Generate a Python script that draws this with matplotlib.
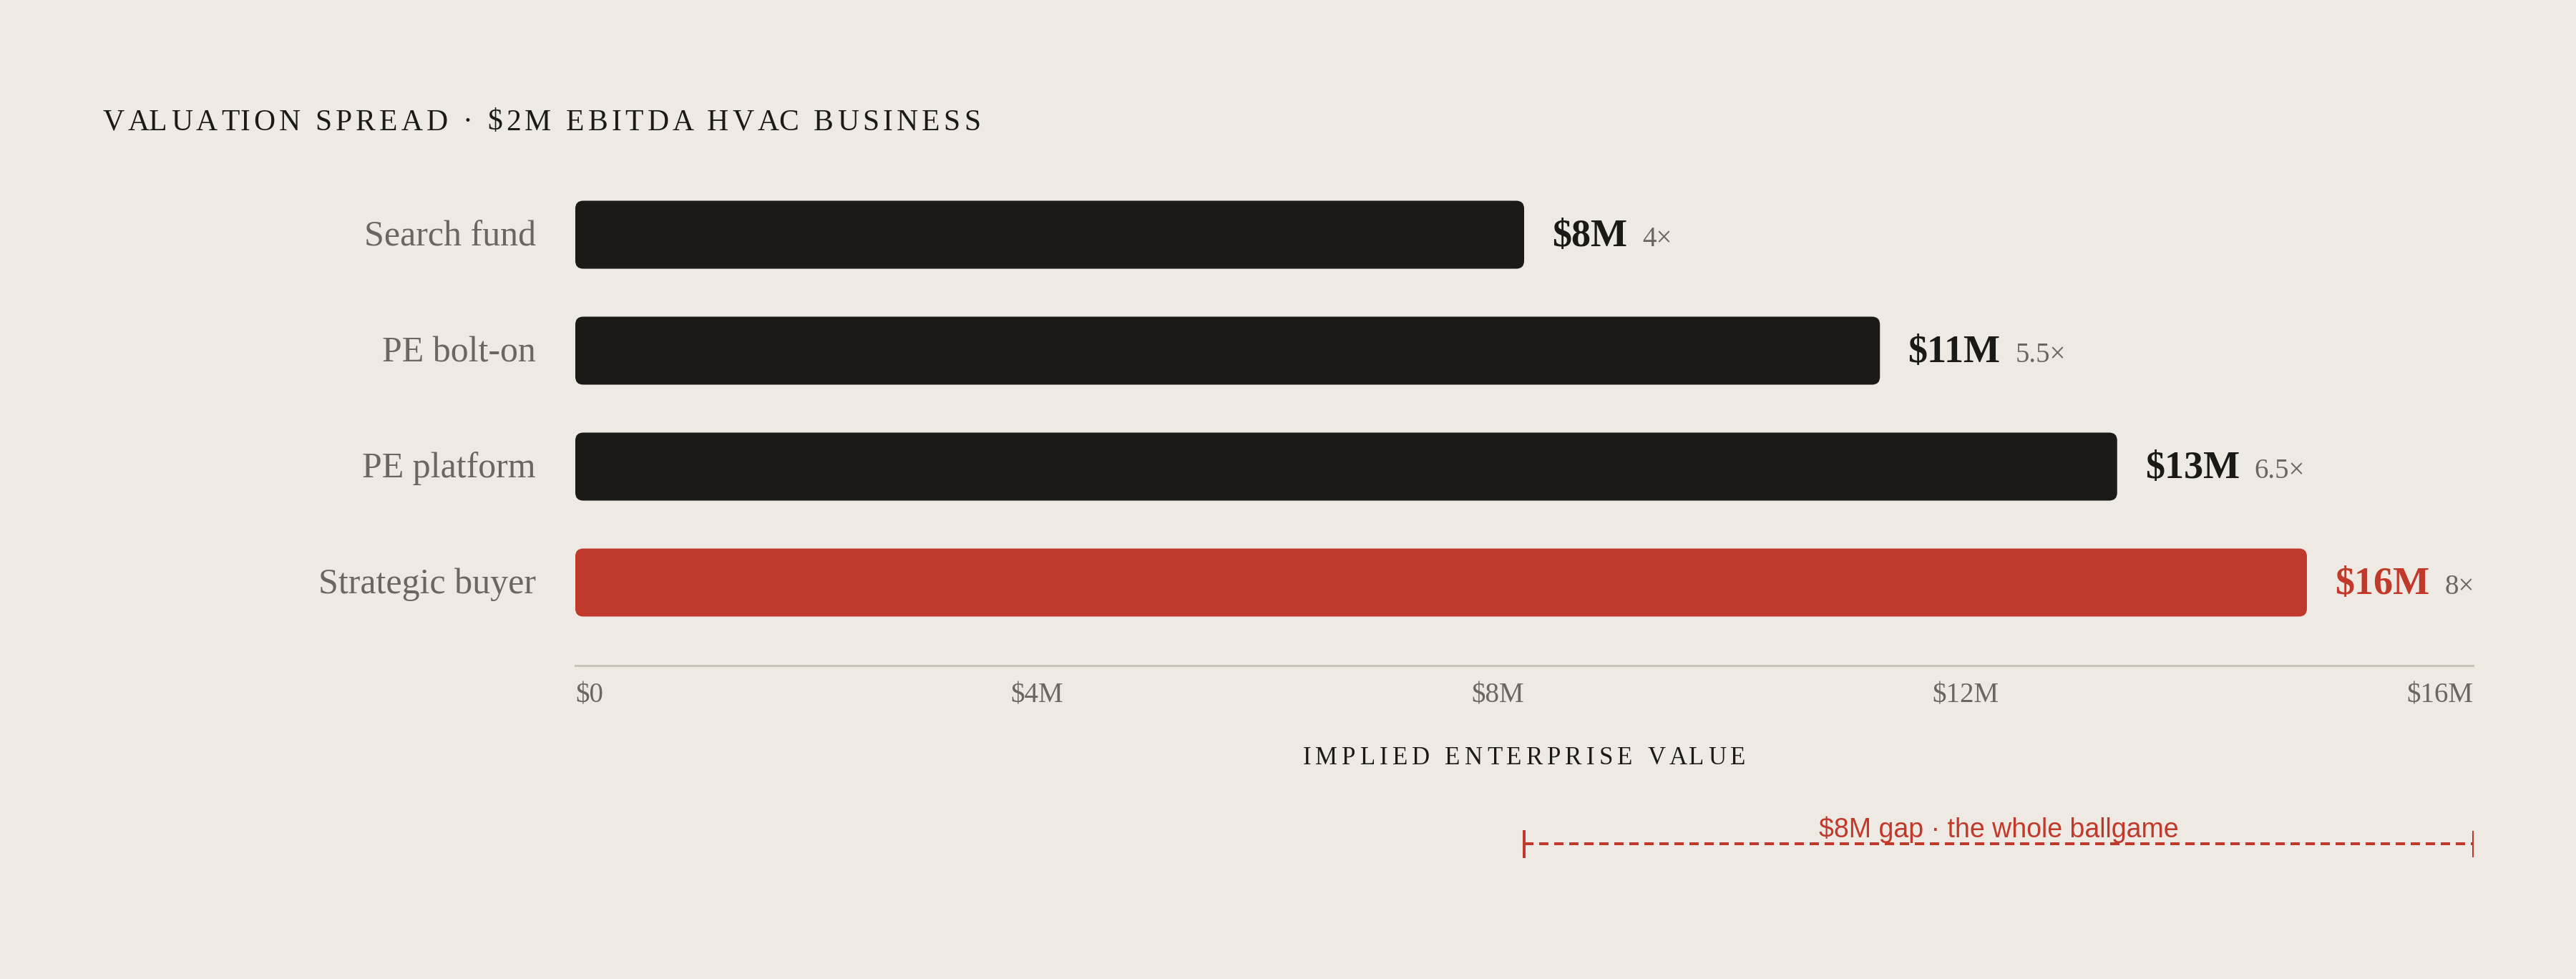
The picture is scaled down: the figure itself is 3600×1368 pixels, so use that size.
import matplotlib
matplotlib.use("Agg")
import matplotlib.pyplot as plt
from matplotlib.patches import FancyBboxPatch
from matplotlib import transforms as mtrans

# data
buyers = ["Search fund", "PE bolt-on", "PE platform", "Strategic buyer"]
ev_values = [8, 11, 13, 16]
ev_labels = ["$8M", "$11M", "$13M", "$16M"]
multiples = ["4×", "5.5×", "6.5×", "8×"]
# drawn bar lengths (the last bar is capped so its labels fit)
bar_lengths = [8, 11, 13, 14.6]
highlight = [False, False, False, True]
tick_labels = ["$0", "$4M", "$8M", "$12M", "$16M"]
gap_from, gap_to = 8, 16
gap_label = "$8M gap · the whole ballgame"
title = "VALUATION SPREAD · $2M EBITDA HVAC BUSINESS"
xlabel = "IMPLIED ENTERPRISE VALUE"

# style
BG = "#eeeae3"
INK = "#1c1a16"
RED = "#c0392b"
GREY = "#6b6760"
RULE = "#c9c3ba"
SERIF = ["Liberation Serif", "DejaVu Serif"]
SANS = ["Liberation Sans", "DejaVu Sans"]

W, H, DPI = 3600, 1368, 200
PT = 72 / DPI  # points per pixel

fig = plt.figure(figsize=(W / DPI, H / DPI), dpi=DPI, facecolor=BG)
ident = mtrans.IdentityTransform()


def py(y):
    # pixel row from top -> display y
    return H - y


# plot area: x from 804 to 3456 px, bars centred 162 px apart starting at 328 px
x_left, x_right = 804, 3456
row0, row_step, axis_y = 328, 162, 930
top_y = row0 - row_step / 2
ax = fig.add_axes([x_left / W, 1 - axis_y / H, (x_right - x_left) / W, (axis_y - top_y) / H])
ax.set_facecolor("none")
ax.set_xlim(0, 16)
ax.set_ylim((axis_y - row0) / row_step, -0.5)
ax.set_xticks([])
ax.set_yticks([])
for s in ["top", "left", "right"]:
    ax.spines[s].set_visible(False)
ax.spines["bottom"].set_color(RULE)
ax.spines["bottom"].set_linewidth(3 * PT)

bar_h = 95 / row_step
aspect = (1 / row_step) / (16 / (x_right - x_left))
radius = 11 * 16 / (x_right - x_left)

for i, (name, L) in enumerate(zip(buyers, bar_lengths)):
    col = RED if highlight[i] else INK
    ax.add_patch(FancyBboxPatch((0, i - bar_h / 2), L, bar_h,
                                boxstyle=f"round,pad=0,rounding_size={radius}",
                                mutation_aspect=aspect, fc=col, ec="none"))
    ax.annotate(name, xy=(0, i), xytext=(-55 * PT, -15 * PT), textcoords="offset points",
                ha="right", va="baseline", fontsize=18, family=SERIF, color=GREY,
                annotation_clip=False)
    t1 = ax.annotate(ev_labels[i], xy=(L, i), xytext=(39 * PT, -15.5 * PT),
                     textcoords="offset points", ha="left", va="baseline",
                     fontsize=19.5, fontweight="bold", family=SERIF, color=col,
                     annotation_clip=False)
    ax.annotate(multiples[i], xy=(1, i), xycoords=(t1, "data"),
                xytext=(21 * PT, -15.5 * PT), textcoords="offset points",
                ha="left", va="baseline", fontsize=14, family=SERIF, color=GREY,
                annotation_clip=False)

fig.canvas.draw()
rend = fig.canvas.get_renderer()


def text_w(txt, **kw):
    t = fig.text(0, 0, txt, **kw)
    w = t.get_window_extent(rend).width
    t.remove()
    return w


def spaced_text(s, x, y, width, ha="left", **kw):
    # letter-spaced text, char by char, stretched to the given pixel width
    base = text_w("|", **kw)
    starts = [text_w(s[:i] + "|", **kw) - base if i else 0 for i in range(len(s) + 1)]
    sp = (width - starts[-1]) / (len(s) - 1)
    x0 = x - width / 2 if ha == "center" else x
    for i, ch in enumerate(s):
        if ch != " ":
            fig.text(x0 + starts[i] + i * sp, py(y), ch, transform=ident,
                     ha="left", va="baseline", **kw)


spaced_text(title, 143, 181.5, 1227, fontsize=15, family=SERIF, color=INK)
spaced_text(xlabel, (x_left + x_right) / 2, 1068, 619, ha="center",
            fontsize=12.5, family=SERIF, color=INK)

# tick labels laid out edge to edge with equal gaps
ticks = [fig.text(0, py(982), lab, transform=ident, ha="left", va="baseline",
                  fontsize=14, family=SERIF, color=GREY) for lab in tick_labels]
widths = [t.get_window_extent(rend).width for t in ticks]
gap = (x_right - x_left - sum(widths)) / (len(ticks) - 1)
xpos = x_left
for t, w in zip(ticks, widths):
    t.set_position((xpos, py(982)))
    xpos += w + gap

# gap annotation under the axis
bt = mtrans.blended_transform_factory(ax.transData, ident)
ax.plot([gap_from, gap_to], [py(1179), py(1179)], transform=bt, color=RED,
        lw=4 * PT, dashes=(3.25, 2), clip_on=False, solid_capstyle="butt")
ax.plot([gap_from, gap_from], [py(1162), py(1197)], transform=bt, color=RED,
        lw=4 * PT, clip_on=False)
ax.plot([gap_to, gap_to], [py(1162), py(1197)], transform=bt, color=RED,
        lw=2 * PT, clip_on=False)
ax.text((gap_from + gap_to) / 2, py(1170), gap_label, transform=bt, ha="center",
        va="baseline", fontsize=13.5, family=SANS, color=RED, clip_on=False)

fig.savefig("out.png", dpi=DPI, facecolor=BG)
